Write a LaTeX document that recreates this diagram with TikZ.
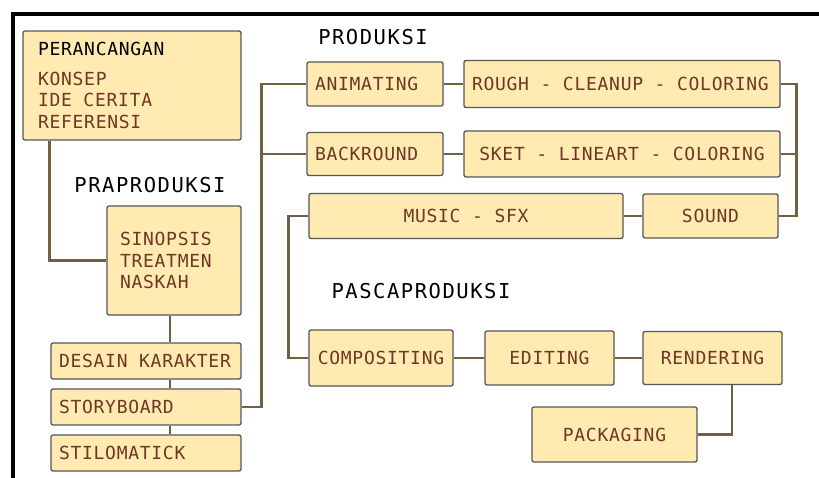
\documentclass[tikz,border=0pt]{standalone}
\usepackage{fontspec}
\newfontfamily\boxfont[LetterSpace=4]{DejaVu Sans Mono}
\newfontfamily\headfont[LetterSpace=7.5]{DejaVu Sans Mono}
\definecolor{boxfill}{RGB}{255,234,178}
\definecolor{boxline}{RGB}{85,85,85}
\definecolor{wirecol}{RGB}{112,98,64}
\definecolor{boxtext}{RGB}{110,55,35}

\tikzstyle{box} = [draw=boxline,fill=boxfill,line width=1.3pt,rounded corners=2pt,inner xsep=8pt,inner ysep=0pt,text=boxtext,font=\boxfont\fontsize{18}{21.5}\selectfont,execute at begin node={\spaceskip=11.55pt\relax}]
\tikzstyle{head} = [text=black,font=\headfont\fontsize{20.5}{24}\selectfont]
\tikzstyle{wire} = [draw=wirecol,line width=2.6pt]
\tikzstyle{frame} = [draw=black,line width=4pt]

\begin{document}
\begin{tikzpicture}[x=1pt,y=-1pt]
      \useasboundingbox (0,0) rectangle (819,478);
      \draw[frame] (819,14) -- (13,14) -- (13,478);

      %headings
      \node[head] (praproduksi) at (150,185) {PRAPRODUKSI};
      \node[head] (produksi) at (373,37) {PRODUKSI};
      \node[head] (pascaproduksi) at (421,291) {PASCAPRODUKSI};

      %nodes
      \node[box, minimum width=218pt, minimum height=109pt, text width=188pt, inner xsep=15pt, align=left] (perancangan) at (132,85.5)
        {{\color{black}PERANCANGAN}\\[8pt] KONSEP\\IDE CERITA\\REFERENSI};
      \node[box, minimum width=134pt, minimum height=109pt, text width=108pt, inner xsep=13pt, align=left] (sinopsis) at (174,260.5)
        {SINOPSIS\\TREATMEN\\NASKAH};
      \foreach \nodename/\x/\y/\w/\h/\tw/\al/\txt in {
        desain/146/361/190/36/174/left/DESAIN KARAKTER,
        storyboard/146/407/190/36/174/left/STORYBOARD,
        stilomatick/146/453/190/36/174/left/STILOMATICK,
        animating/375/84/136/44/120/left/ANIMATING,
        rough/622/84/316/47/300/left/ROUGH - CLEANUP - COLORING,
        backround/375/154/136/43/120/left/BACKROUND,
        sket/622/154/316/46/300/center/SKET - LINEART - COLORING,
        music/466/216/314/45/298/center/MUSIC - SFX,
        sound/710.5/216/135/44/119/center/SOUND,
        compositing/381/358/144/56/128/center/COMPOSITING,
        editing/549.5/358/129/54/113/center/EDITING,
        rendering/712.5/358/139/53/123/center/RENDERING,
        packaging/614.5/434.5/165/55/149/center/PACKAGING}
      {
        \node[box, minimum width=\w pt, minimum height=\h pt, text width=\tw pt, align=\al] (\nodename) at (\x,\y) {\txt};
      };

      %edges
      \draw[wire] ([xshift=27pt]perancangan.south west) |- (sinopsis.west);
      \draw[wire] ([xshift=-4pt]sinopsis.south) -- ([xshift=-4pt]sinopsis.south |- desain.north);
      \draw[wire] ([xshift=24pt]desain.south) -- ([xshift=24pt]storyboard.north);
      \draw[wire] ([xshift=24pt]storyboard.south) -- ([xshift=24pt]stilomatick.north);
      \coordinate (prodbus) at ([xshift=20pt]storyboard.east);
      \draw[wire] (storyboard.east) -- (prodbus) |- (animating.west);
      \draw[wire] (prodbus |- backround.west) -- (backround.west);
      \draw[wire] (animating) -- (rough);
      \draw[wire] (backround) -- (sket);
      \coordinate (soundbus) at ([xshift=16pt]rough.east);
      \draw[wire] (rough.east) -- (soundbus) |- (sound.east);
      \draw[wire] (sket.east) -- (sket.east -| soundbus);
      \draw[wire] (music) -- (sound);
      \coordinate (pascabus) at ([xshift=-20pt]music.west);
      \draw[wire] (music.west) -- (pascabus) |- (compositing.west);
      \draw[wire] (compositing) -- (editing);
      \draw[wire] (editing) -- (rendering);
      \draw[wire] ([xshift=19.5pt]rendering.south) |- (packaging.east);
\end{tikzpicture}
\end{document}
